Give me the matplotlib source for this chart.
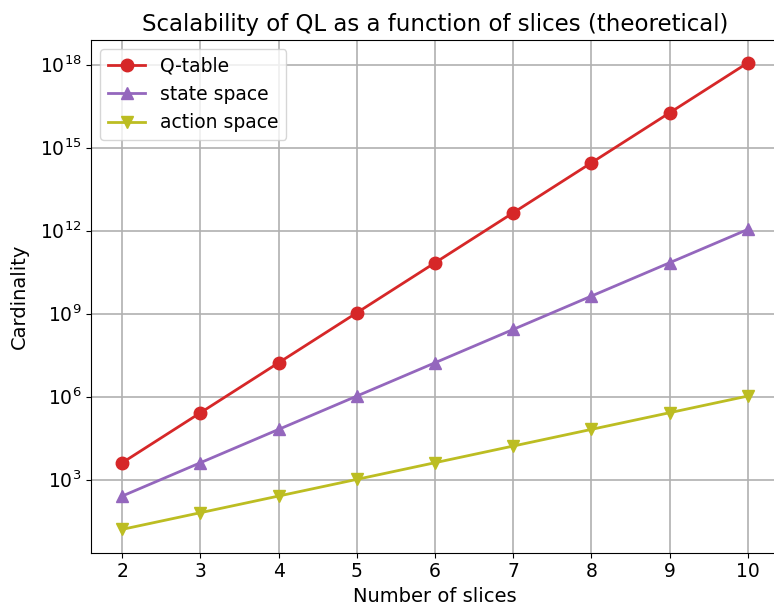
import matplotlib
matplotlib.use("Agg")
import matplotlib.pyplot as plt
from matplotlib import ticker

slices = [2, 3, 4, 5, 6, 7, 8, 9, 10]
q_table = [4096, 262144, 16777216, 1073741824, 68719476736, 4398046511104,
           281474976710656, 18014398509481984, 1152921504606846976]
state_space = [256, 4096, 65536, 1048576, 16777216, 268435456,
               4294967296, 68719476736, 1099511627776]
action_space = [16, 64, 256, 1024, 4096, 16384, 65536, 262144, 1048576]
y_ticks = [1e3, 1e6, 1e9, 1e12, 1e15, 1e18]

fig, ax = plt.subplots(figsize=(7.74, 6.08), dpi=100)
# the right spine sits just past the figure edge in the original
fig.subplots_adjust(left=0.1176, right=1.0065, top=0.935, bottom=0.091)
ax.spines["right"].set_visible(False)

ax.plot(slices, q_table, marker="o", color="tab:red", lw=2, ms=9, label="Q-table")
ax.plot(slices, state_space, marker="^", color="tab:purple", lw=2, ms=9, label="state space")
ax.plot(slices, action_space, marker="v", color="tab:olive", lw=2, ms=9, label="action space")

ax.set_yscale("log")
ax.set_yticks(y_ticks)
ax.yaxis.set_minor_locator(ticker.NullLocator())
ax.grid(True, color="#b0b0b0", lw=1.2)
ax.set_axisbelow(True)
ax.set_xlabel("Number of slices", fontsize=14)
ax.set_ylabel("Cardinality", fontsize=14, labelpad=7.5)
ax.set_title("Scalability of QL as a function of slices (theoretical)", fontsize=16.5)
ax.tick_params(labelsize=13.5)
ax.legend(fontsize=13.5, loc="upper left")

plt.savefig("out.png")
